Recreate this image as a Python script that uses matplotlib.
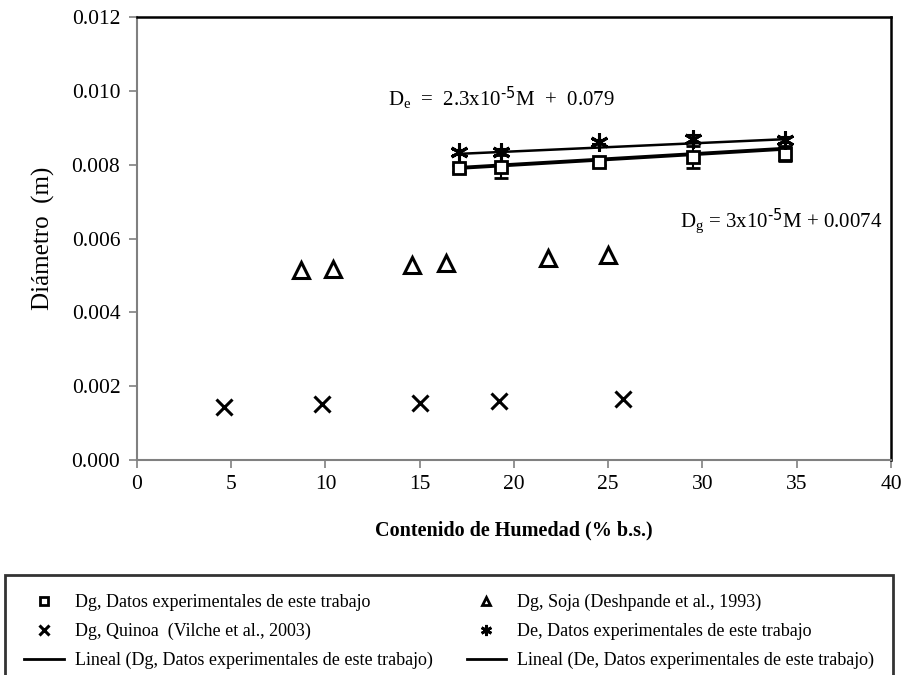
import matplotlib
matplotlib.use('Agg')
import matplotlib.pyplot as plt
from matplotlib.lines import Line2D
import numpy as np

plt.rcParams['font.family'] = ['Liberation Serif', 'DejaVu Serif']
plt.rcParams['mathtext.default'] = 'regular'

# Soja (Deshpande et al., 1993)
soja_m = [8.7, 10.4, 14.6, 16.4, 21.8, 25.0]
soja_dg = [0.00515, 0.00518, 0.00527, 0.00535, 0.00546, 0.00555]

# Quinoa (Vilche et al., 2003)
quinoa_m = [4.6, 9.8, 15.0, 19.2, 25.8]
quinoa_dg = [0.00144, 0.00151, 0.00155, 0.00160, 0.00166]

# datos experimentales de este trabajo
exp_m = [17.1, 19.3, 24.5, 29.5, 34.4]
exp_dg = [0.00790, 0.00795, 0.00808, 0.00820, 0.00830]
exp_dg_err = [0.00010, 0.00030, 0.00008, 0.00030, 0.00020]
exp_de = [0.00833, 0.00835, 0.00862, 0.00870, 0.00866]
exp_de_err = [0.00008, 0.00008, 0.00006, 0.00010, 0.00008]

# ajustes lineales (pendiente, ordenada)
dg_fit = (3e-5, 0.0074)
de_fit = (2.3e-5, 0.0079)

fig = plt.figure(figsize=(9.03, 6.75), dpi=100)
ax = fig.add_axes([0.1517, 0.3185, 0.835, 0.6563])

mk = dict(linestyle='none', color='black', markerfacecolor='none')

ax.plot(soja_m, soja_dg, marker='^', markersize=12, markeredgewidth=2.2, **mk)
ax.plot(quinoa_m, quinoa_dg, marker='x', markersize=12, markeredgewidth=2.2, **mk)

mline = np.array([exp_m[0], exp_m[-1]])
ax.plot(mline, de_fit[0] * mline + de_fit[1], color='black', lw=1.8, zorder=2)
ax.plot(mline, dg_fit[0] * mline + dg_fit[1], color='black', lw=2.8, zorder=2)

ax.errorbar(exp_m, exp_dg, yerr=exp_dg_err, fmt='s', markersize=9, markeredgewidth=2,
            markerfacecolor='white', markeredgecolor='black', ecolor='black',
            elinewidth=1.5, capsize=5, capthick=1.5, zorder=3)
ax.errorbar(exp_m, exp_de, yerr=exp_de_err, fmt='none', ecolor='black',
            elinewidth=1.5, capsize=5, capthick=1.5, zorder=3)
ax.plot(exp_m, exp_de, marker=(6, 2, 0), markersize=13, markeredgewidth=2.2,
        zorder=4, **mk)

ax.set_xlim(0, 40)
ax.set_ylim(0, 0.012)
ax.set_xticks(np.arange(0, 41, 5))
ax.set_yticks(np.arange(0, 0.0121, 0.002))
ax.yaxis.set_major_formatter(matplotlib.ticker.FormatStrFormatter('%.3f'))
ax.tick_params(labelsize=15.5, length=6, width=1.2, color='#808080')
ax.tick_params(axis='y', pad=6)
ax.tick_params(axis='x', pad=5)

for s in ['left', 'bottom']:
    ax.spines[s].set_color('#808080')
    ax.spines[s].set_linewidth(1.5)
for s in ['top', 'right']:
    ax.spines[s].set_color('black')
    ax.spines[s].set_linewidth(1.8)

ax.set_ylabel('Diámetro  (m)', fontsize=18, labelpad=12)
ax.set_xlabel('Contenido de Humedad (% b.s.)', fontsize=14.5, fontweight='bold',
              labelpad=19)

ax.text(13.3, 0.0096, r'D$_{e}$  =  2.3x10$^{\text{-5}}$M  +  0.079', fontsize=15)
ax.text(28.8, 0.0063, r'D$_{g}$ = 3x10$^{\text{-5}}$M + 0.0074', fontsize=15)

handles = [
    Line2D([], [], marker='s', markersize=6, markeredgewidth=2, **mk),
    Line2D([], [], marker='x', markersize=7, markeredgewidth=2.2, **mk),
    Line2D([], [], color='black', lw=2),
    Line2D([], [], marker='^', markersize=6, markeredgewidth=2, **mk),
    Line2D([], [], marker=(6, 2, 0), markersize=8, markeredgewidth=2, **mk),
    Line2D([], [], color='black', lw=2),
]
labels = [
    'Dg, Datos experimentales de este trabajo',
    'Dg, Quinoa  (Vilche et al., 2003)',
    'Lineal (Dg, Datos experimentales de este trabajo)',
    'Dg, Soja (Deshpande et al., 1993)',
    'De, Datos experimentales de este trabajo',
    'Lineal (De, Datos experimentales de este trabajo)',
]
leg = fig.legend(handles, labels, ncol=2, loc='upper left',
                 bbox_to_anchor=(0.006, 0.148, 0.983, 0.0), mode='expand',
                 borderaxespad=0, fontsize=13, frameon=True, fancybox=False,
                 edgecolor='black', handlelength=2.2, handletextpad=0.6,
                 labelspacing=0.65, columnspacing=1.0, borderpad=1.05)
leg.get_frame().set_linewidth(2.0)

fig.savefig('out.png', dpi=100, facecolor='white')
